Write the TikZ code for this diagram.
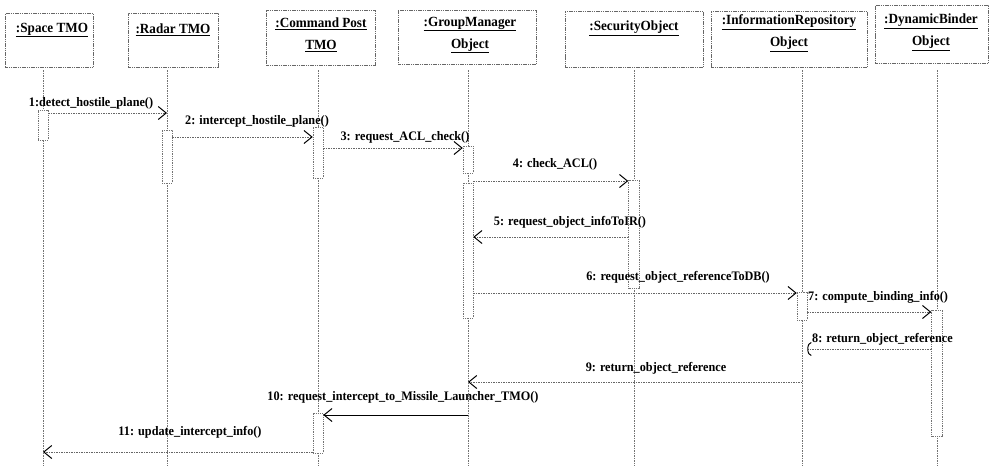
\documentclass[tikz,border=0pt]{standalone}
\usepackage{fontspec}
\setmainfont{Liberation Serif}[FakeStretch=0.94]
\usetikzlibrary{arrows.meta}
\begin{document}
\begin{tikzpicture}[x=1pt,y=-1pt,
  objbox/.style={draw=black!60, dash pattern=on 1.2pt off 0.6pt, line width=0.6pt, anchor=north west, inner sep=0},
  objtxt/.style={font=\bfseries\fontsize{14}{22}\selectfont, align=center, inner sep=0},
  life/.style={draw=black!55, line width=0.5pt, dash pattern=on 1.5pt off 1pt},
  actbox/.style={draw=black!55, fill=white, line width=0.5pt, dash pattern=on 1pt off 0.8pt, minimum width=10pt, inner sep=0, anchor=north},
  msg/.style={draw=black!60, line width=0.6pt, dash pattern=on 1.5pt off 1pt, -{Straight Barb[length=8pt,width=13pt,line width=1pt,color=black]}},
  msgsolid/.style={draw=black, line width=0.8pt, -{Straight Barb[length=8pt,width=13pt,line width=1pt,color=black]}},
  msglbl/.style={font=\bfseries\fontsize{13}{15}\selectfont, inner sep=0},
]
\useasboundingbox (0,0) rectangle (993,466);

% object boxes
\node[objbox, minimum width=88pt, minimum height=54pt] (space) at (5,13) {};
\node[objbox, minimum width=90pt, minimum height=54pt] (radar) at (128,13) {};
\node[objbox, minimum width=109pt, minimum height=55pt] (cmd) at (266,10) {};
\node[objbox, minimum width=138pt, minimum height=54pt] (gm) at (398,10) {};
\node[objbox, minimum width=138pt, minimum height=56pt] (sec) at (565,11) {};
\node[objbox, minimum width=156pt, minimum height=56pt] (ir) at (711,11) {};
\node[objbox, minimum width=113pt, minimum height=58pt] (db) at (875,5) {};

\node[objtxt] (spaceT) at (52,30) {\underline{:Space TMO}};
\node[objtxt] (radarT) at (173,30) {\underline{:Radar TMO}};
\node[objtxt] (cmdT) at (321,35) {\underline{:Command Post}\\\underline{TMO}};
\node[objtxt] (gmT) at (470,35) {\underline{:GroupManager}\\\underline{Object}};
\node[objtxt] (secT) at (634,28) {\underline{:SecurityObject}};
\node[objtxt] (irT) at (789,33) {\underline{:InformationRepository}\\\underline{Object}};
\node[objtxt] (dbT) at (931,32) {\underline{:DynamicBinder}\\\underline{Object}};

% lifelines
\coordinate (spaceL) at (43,70);  \coordinate (spaceE) at (43,466);
\coordinate (radarL) at (167,70); \coordinate (radarE) at (167,466);
\coordinate (cmdL) at (318,70);   \coordinate (cmdE) at (318,466);
\coordinate (gmL) at (468,70);    \coordinate (gmE) at (468,466);
\coordinate (secL) at (634,70);   \coordinate (secE) at (634,466);
\coordinate (irL) at (802,70);    \coordinate (irE) at (802,466);
\coordinate (dbL) at (937,70);    \coordinate (dbE) at (937,466);
\foreach \n in {space,radar,cmd,gm,sec,ir,db} \draw[life] (\n L) -- (\n E);

% activations
\node[actbox, minimum height=30pt] (a1) at (43,110) {};
\node[actbox, minimum height=53pt] (a2) at (167,130) {};
\node[actbox, minimum height=51pt] (a3) at (318,127) {};
\node[actbox, minimum height=27pt] (a4) at (468,146) {};
\node[actbox, minimum height=135pt] (a5) at (468,183) {};
\node[actbox, minimum height=108pt, minimum width=11pt] (a6) at (634,180) {};
\node[actbox, minimum height=28pt] (a7) at (802,292) {};
\node[actbox, minimum height=126pt, minimum width=11pt] (a8) at (937,310) {};
\node[actbox, minimum height=40pt] (a9) at (318,413) {};

% messages
\draw[msg] (a1.east |- 0,113) -- (radarL |- 0,113);
\draw[msg] (a2.east |- 0,137) -- (a3.west |- 0,137);
\draw[msg] (a3.east |- 0,148) -- (a4.west |- 0,148);
\draw[msg] (a5.east |- 0,181) -- (a6.west |- 0,181);
\draw[msg] (a6.west |- 0,237) -- (a5.east |- 0,237);
\draw[msg] (a5.east |- 0,293) -- (a7.west |- 0,293);
\draw[msg] (a7.east |- 0,312) -- (a8.west |- 0,312);
\draw[draw=black!60, line width=0.6pt, dash pattern=on 1.5pt off 1pt, -{Arc Barb[length=4pt,width=14pt,line width=1pt,color=black]}] (a8.west |- 0,349) -- (a7.east |- 0,349);
\draw[msg] (irL |- 0,382) -- (gmL |- 0,382);
\draw[msgsolid] (gmL |- 0,415) -- (a9.east |- 0,415);
\draw[msg] (a9.west |- 0,452) -- (spaceL |- 0,452);

% message labels
\node[msglbl] (l1) at (91,103) {1:detect\_hostile\_plane()};
\node[msglbl] (l2) at (257,121) {2: intercept\_hostile\_plane()};
\node[msglbl] (l3) at (405,137) {3: request\_ACL\_check()};
\node[msglbl] (l4) at (555,164) {4: check\_ACL()};
\node[msglbl] (l5) at (570,222) {5: request\_object\_infoToIR()};
\node[msglbl] (l6) at (678,277) {6: request\_object\_referenceToDB()};
\node[msglbl, anchor=west] (l7) at (808,297) {7: compute\_binding\_info()};
\node[msglbl, anchor=west] (l8) at (812,339) {8: return\_object\_reference};
\node[msglbl] (l9) at (656,368) {9: return\_object\_reference};
\node[msglbl] (l10) at (403,397) {10: request\_intercept\_to\_Missile\_Launcher\_TMO()};
\node[msglbl] (l11) at (190,432) {11: update\_intercept\_info()};
\end{tikzpicture}
\end{document}
